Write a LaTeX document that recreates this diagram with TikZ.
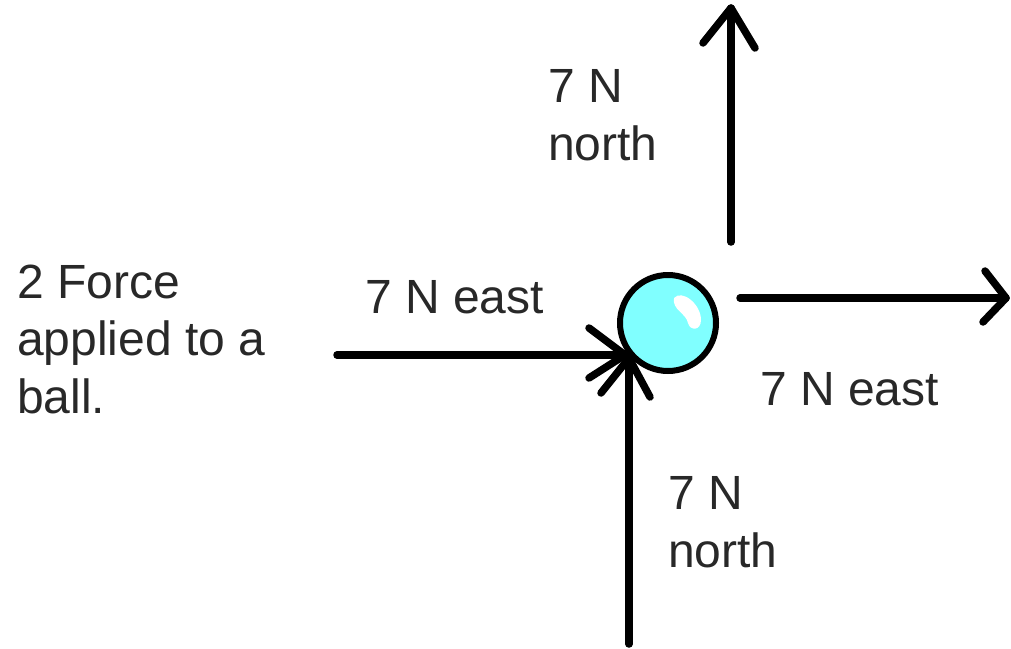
\documentclass[tikz,border=0pt]{standalone}
\usepackage{fontspec}
\setmainfont{Liberation Sans}
\definecolor{ballfill}{RGB}{128,255,255}
\definecolor{txt}{RGB}{40,40,40}
\begin{document}
\begin{tikzpicture}[x=1pt,y=-1pt,
  force/.style={line width=7.5pt,line cap=round,line join=round,draw=black},
  lbl/.style={inner sep=0pt,anchor=base west,align=left,text=txt,
    font=\fontsize{48}{57.5}\selectfont}]
\useasboundingbox (0,0) rectangle (1011,648);
% ball
\node[circle,draw=black,line width=6pt,fill=ballfill,minimum size=96pt,inner sep=0pt] (ball) at (668,323) {};
\fill[white] (674,298) .. controls (682,289) and (701,304) .. (701,320)
  .. controls (701,331) and (690,331) .. (688,323)
  .. controls (686,313) and (672,310) .. cycle;
% top arrow (7 N north)
\coordinate (tS) at (731,242);
\coordinate (tT) at (731,8);
\coordinate (tL) at (703,43);
\coordinate (tR) at (755,48);
\draw[force] (tS) -- (tT);
\draw[force] (tL) -- (tT) -- (tR);
% right arrow (7 N east)
\coordinate (rS) at (740,298);
\coordinate (rT) at (1006,298);
\coordinate (rU) at (985,271);
\coordinate (rD) at (983,322);
\draw[force] (rS) -- (rT);
\draw[force] (rU) -- (rT) -- (rD);
% left arrow (7 N east, into ball)
\coordinate (lS) at (337,355);
\coordinate (lT) at (625,355);
\coordinate (lU) at (589,328);
\coordinate (lD) at (589,378);
\draw[force] (lS) -- (lT);
\draw[force] (lU) -- (lT) -- (lD);
% bottom arrow (7 N north, into ball)
\coordinate (bS) at (629,644);
\coordinate (bT) at (629,358);
\coordinate (bL) at (601,393);
\coordinate (bR) at (650,397);
\draw[force] (bS) -- (bT);
\draw[force] (bL) -- (bT) -- (bR);
% labels (base anchor = baseline of last line)
\node[lbl] (title) at (17,413) {2 Force\\applied to a\\ball.};
\node[lbl] (topl) at (548,160) {7 N\\north};
\node[lbl] (leftl) at (365,313) {7 N east};
\node[lbl] (rightl) at (760,405) {7 N east};
\node[lbl] (botl) at (668,567) {7 N\\north};
\end{tikzpicture}
\end{document}
